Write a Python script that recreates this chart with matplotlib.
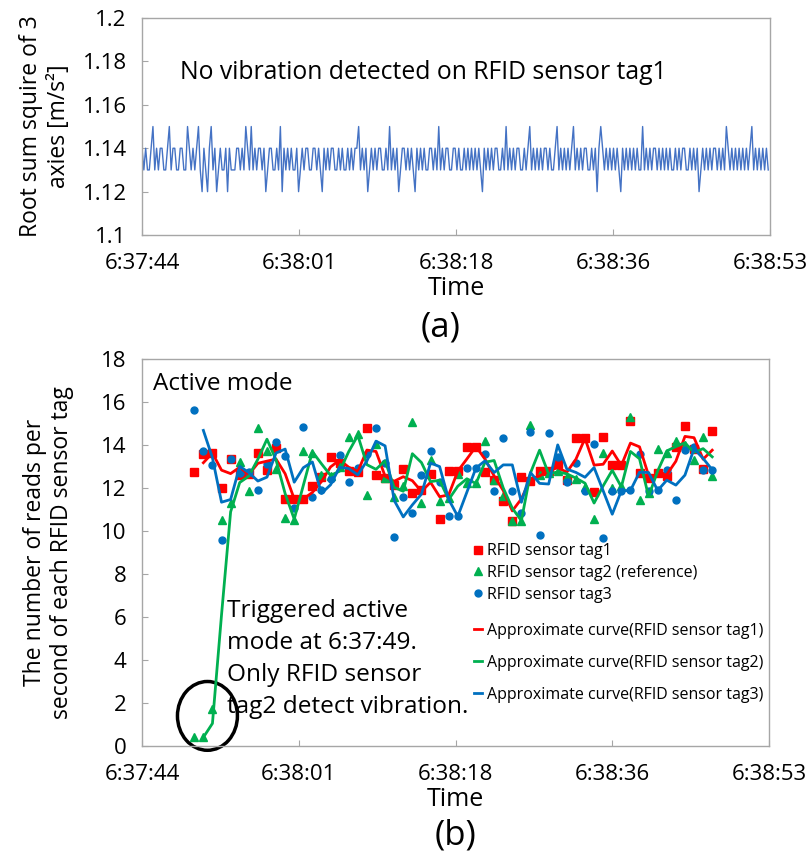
import numpy as np
import pandas as pd
import matplotlib
matplotlib.use("Agg")
import matplotlib.pyplot as plt
from matplotlib.patches import Ellipse

plt.rcParams['font.family'] = ['Open Sans', 'DejaVu Sans']

# x axis: seconds after 6:37:44
tick_sec = [0, 17.25, 34.5, 51.75, 69]
tick_labels = ["6:37:44", "6:38:01", "6:38:18", "6:38:36", "6:38:53"]

# (a) root sum square of the 3 axes, one sample every 0.2 s
# each digit is a level: 2 -> 1.12, 3 -> 1.13, 4 -> 1.14, 5 -> 1.15
vib_step = 0.2
vib_digits = (
    "4343345343" "4433453443" "3443354343" "4532432453" "4234334243"
    "3344343543" "5343443423" "4433435243" "4343342343" "4433443432"
    "4343443343" "4334343445" "3434234343" "4433435343" "4234434343"
    "2434343344" "3435343443" "3443433434" "3434343243" "4343443343"
    "5343434433" "4345343434" "3443433453" "4343434534" "3434433434"
    "2454343434" "3432434343" "4343353434" "3443434343" "4334343443"
    "3434342343" "4343443434" "3543434343" "4343453434" "34343"
)
vib_level = {"2": 1.12, "3": 1.13, "4": 1.14, "5": 1.15}

# (b) reads per second, one value per second starting at 6:37:49.75
reads_start = 5.75
tag1 = [12.75, 13.6, 13.65, 12.01, 13.33, 12.6, 12.65, 13.65, 12.85, 13.84,
        11.49, 11.49, 11.49, 12.1, 12.5, 13.46, 13.15, 12.78, 12.75, 14.78,
        12.62, 12.48, 12.15, 12.9, 11.78, 11.9, 12.63, 10.56, 12.8, 12.77,
        13.93, 13.93, 12.75, 12.37, 11.4, 10.47, 12.52, 12.32, 12.8, 12.8,
        13.1, 12.37, 14.31, 14.31, 11.82, 14.39, 13.05, 13.05, 15.13, 12.7,
        12.47, 12.68, 12.57, 13.92, 14.88, 13.8, 12.88, 14.64]
tag2 = [0.4, 0.4, 1.7, 10.5, 11.28, 13.23, 11.87, 14.81, 13.73, 12.88,
        10.6, 10.51, 13.73, 13.65, 12.6, 12.57, 13.0, 14.39, 14.5, 11.67,
        14.07, 12.46, 11.6, 12.1, 15.09, 11.28, 13.31, 11.41, 11.52, 12.65,
        12.21, 12.21, 14.19, 12.37, 11.64, 10.48, 10.48, 14.92, 12.6, 12.7,
        12.8, 12.52, 12.4, 12.05, 10.55, 13.65, 12.0, 12.1, 15.3, 11.42,
        11.79, 13.8, 13.65, 14.2, 14.0, 13.31, 14.35, 12.55]
tag3 = [15.63, 13.73, 13.08, 9.6, 13.33, 12.69, 12.75, 11.9, 13.11, 14.15,
        13.47, 11.07, 14.82, 11.6, 11.9, 12.4, 13.53, 12.28, 12.94, 13.58,
        14.78, 13.14, 9.71, 11.6, 10.83, 12.6, 13.73, 12.26, 10.68, 10.68,
        12.93, 12.93, 13.6, 11.84, 14.31, 11.84, 10.83, 14.61, 9.82, 14.55,
        13.46, 12.3, 13.15, 11.85, 14.05, 9.69, 11.87, 11.87, 11.9, 13.57,
        11.87, 11.9, 12.83, 11.44, 13.76, 13.9, 12.85, 12.85]

RED = "#FF0000"
GREEN = "#00B050"
BLUE = "#0070C0"
FRAME = "#A6A6A6"


def style_axes(ax):
    for s in ax.spines.values():
        s.set_color(FRAME)
        s.set_linewidth(1)
    ax.tick_params(direction="in", length=4, color=FRAME, labelsize=16)
    ax.tick_params(axis="x", pad=13)
    ax.tick_params(axis="y", pad=11)
    ax.set_xlim(0, 69)
    ax.set_xticks(tick_sec)
    ax.set_xticklabels(tick_labels)


fig = plt.figure(figsize=(8.06, 8.55), dpi=100)

# ---- panel (a)
ax1 = fig.add_axes([0.1762, 0.7251, 0.7792, 0.2538])
vib = np.array([vib_level[c] for c in vib_digits])
t_vib = np.arange(len(vib)) * vib_step
ax1.plot(t_vib, vib, color="#4472C4", lw=1.0)
ax1.set_ylim(1.1, 1.2)
ax1.set_yticks([1.1, 1.12, 1.14, 1.16, 1.18, 1.2])
ax1.set_yticklabels(["1.1", "1.12", "1.14", "1.16", "1.18", "1.2"])
style_axes(ax1)
ax1.set_xlabel("Time", fontsize=18, labelpad=1.2)
ax1.set_ylabel("Root sum squire of 3\naxies [m/s²]", fontsize=16.5)
ax1.yaxis.set_label_coords(-0.113, 0.5)
ax1.text(4.2, 1.175, "No vibration detected on RFID sensor tag1",
         fontsize=17.8, va="center")
fig.text(0.547, 0.617, "(a)", fontsize=25, ha="center", va="center")

# ---- panel (b)
ax2 = fig.add_axes([0.1762, 0.1275, 0.7779, 0.4526])
t_reads = reads_start + np.arange(len(tag1))
ax2.plot(t_reads, tag1, "s", color=RED, ms=5.2, ls="none", label="RFID sensor tag1")
ax2.plot(t_reads, tag2, "^", color=GREEN, ms=5.5, ls="none",
         label="RFID sensor tag2 (reference)")
ax2.plot(t_reads, tag3, "o", color=BLUE, ms=5, ls="none", label="RFID sensor tag3")

# 2-period moving average trendlines
for vals, col, name in [(tag1, RED, "tag1"), (tag2, GREEN, "tag2"), (tag3, BLUE, "tag3")]:
    ma = pd.Series(vals).rolling(2).mean()
    ax2.plot(t_reads, ma, color=col, lw=2,
             label="Approximate curve(RFID sensor %s)" % name)

ax2.set_ylim(0, 18)
ax2.set_yticks(range(0, 19, 2))
style_axes(ax2)
ax2.set_xlabel("Time", fontsize=18, labelpad=1.2)
ax2.set_ylabel("The number of reads per\nsecond of each RFID sensor tag", fontsize=16.5)
ax2.yaxis.set_label_coords(-0.108, 0.5)

ax2.text(1.2, 16.85, "Active mode", fontsize=17.5, va="center")
ax2.text(9.4, 6.85, "Triggered active\nmode at 6:37:49.\nOnly RFID sensor\ntag2 detect vibration.",
         fontsize=17.6, va="top", linespacing=1.45)
ax2.add_patch(Ellipse((7.2, 1.4), 6.6, 3.2, fill=False, ec="black", lw=2.5, clip_on=False))

h, l = ax2.get_legend_handles_labels()
leg1 = ax2.legend(h[:3], l[:3], loc="upper left", bbox_to_anchor=(0.52, 0.54),
                  frameon=False, fontsize=11.5, handlelength=0.5, handletextpad=0.3,
                  labelspacing=0.35, borderaxespad=0)
ax2.add_artist(leg1)
ax2.legend(h[3:], l[3:], loc="upper left", bbox_to_anchor=(0.52, 0.335),
           frameon=False, fontsize=11.5, handlelength=0.5, handletextpad=0.3,
           labelspacing=1.0, borderaxespad=0)

fig.text(0.5657, 0.023, "(b)", fontsize=25, ha="center", va="center")

fig.savefig("out.png", dpi=100)
